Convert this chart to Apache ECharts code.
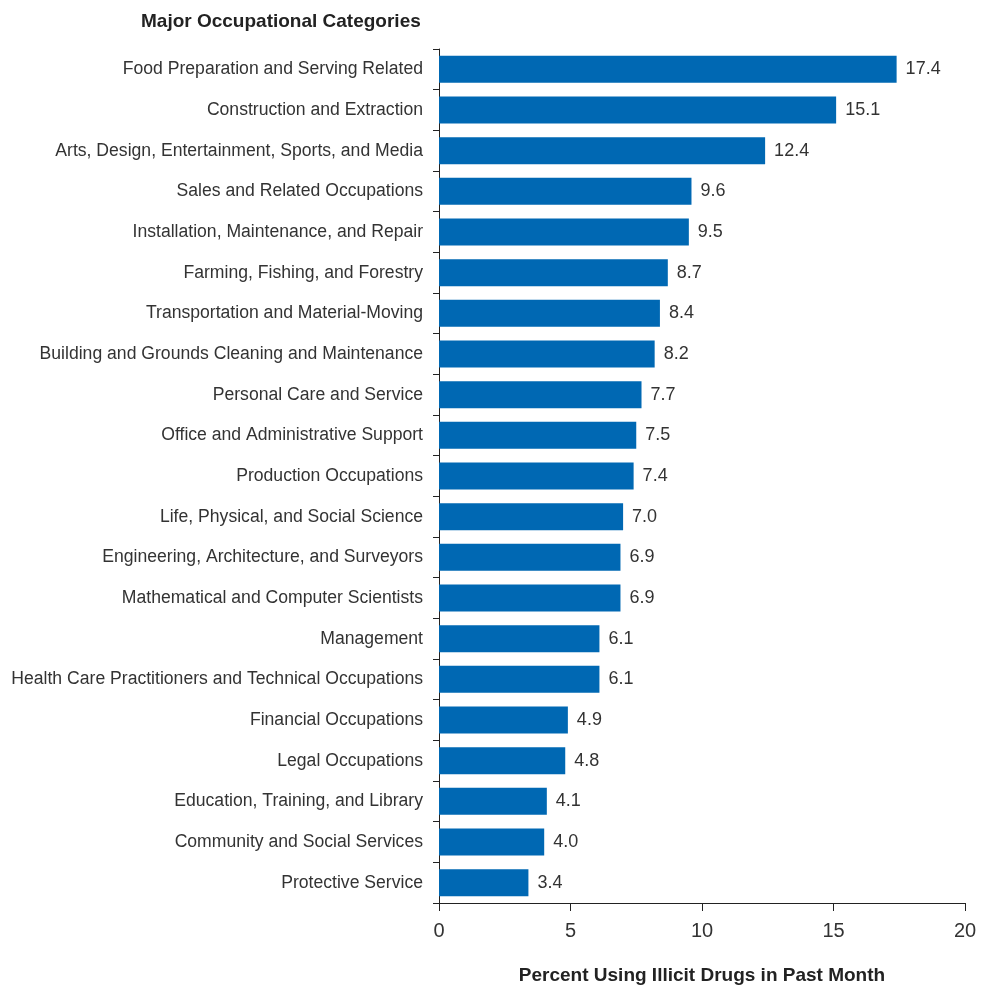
<!DOCTYPE html>
<html><head><meta charset="utf-8">
<script src="https://cdn.jsdelivr.net/npm/echarts@6/dist/echarts.min.js"></script>
<style>html,body{margin:0;padding:0;background:#fff}#c{width:989px;height:988px}</style>
</head><body><div id="c"></div>
<script>
const categories = [
 "Food Preparation and Serving Related",
 "Construction and Extraction",
 "Arts, Design, Entertainment, Sports, and Media",
 "Sales and Related Occupations",
 "Installation, Maintenance, and Repair",
 "Farming, Fishing, and Forestry",
 "Transportation and Material-Moving",
 "Building and Grounds Cleaning and Maintenance",
 "Personal Care and Service",
 "Office and Administrative Support",
 "Production Occupations",
 "Life, Physical, and Social Science",
 "Engineering, Architecture, and Surveyors",
 "Mathematical and Computer Scientists",
 "Management",
 "Health Care Practitioners and Technical Occupations",
 "Financial Occupations",
 "Legal Occupations",
 "Education, Training, and Library",
 "Community and Social Services",
 "Protective Service"
];
const values = [17.4,15.1,12.4,9.6,9.5,8.7,8.4,8.2,7.7,7.5,7.4,7.0,6.9,6.9,6.1,6.1,4.9,4.8,4.1,4.0,3.4];
const xTicks = [0,5,10,15,20];
const FONT = "'Liberation Sans Narrow', 'Liberation Sans', sans-serif";
const chart = echarts.init(document.getElementById('c'));
chart.setOption({
  animation:false,
  textStyle:{fontFamily:FONT},
  title:{text:"Major Occupational Categories", left:136, top:7,
    textStyle:{fontFamily:FONT,fontSize:19,fontWeight:'bold',color:'#222'}},
  grid:{left:439,right:24,top:49,bottom:85,containLabel:false,outerBoundsMode:'none'},
  xAxis:{type:'value',min:xTicks[0],max:xTicks[xTicks.length-1],interval:5,
    name:"Percent Using Illicit Drugs in Past Month",nameLocation:'middle',nameGap:63,
    nameTextStyle:{fontFamily:FONT,fontSize:19,fontWeight:'bold',color:'#222'},
    axisLine:{show:true,lineStyle:{color:'#222',width:1}},
    axisTick:{show:true,length:8,lineStyle:{color:'#222'}},
    axisLabel:{fontFamily:FONT,fontSize:20,color:'#333',margin:18},
    splitLine:{show:false}},
  yAxis:{type:'category',data:categories,inverse:true,
    axisLine:{show:true,lineStyle:{color:'#222',width:1}},
    axisTick:{show:true,length:6,alignWithLabel:false,lineStyle:{color:'#222'}},
    axisLabel:{fontFamily:FONT,fontSize:17.6,color:'#333',margin:16}},
  series:[{type:'bar',data:values,barWidth:27,
    itemStyle:{color:'#0068b3'},
    label:{show:true,position:'right',distance:9,fontFamily:FONT,fontSize:18,color:'#333',
      formatter:p=>p.value.toFixed(1)}}]
});
</script></body></html>
